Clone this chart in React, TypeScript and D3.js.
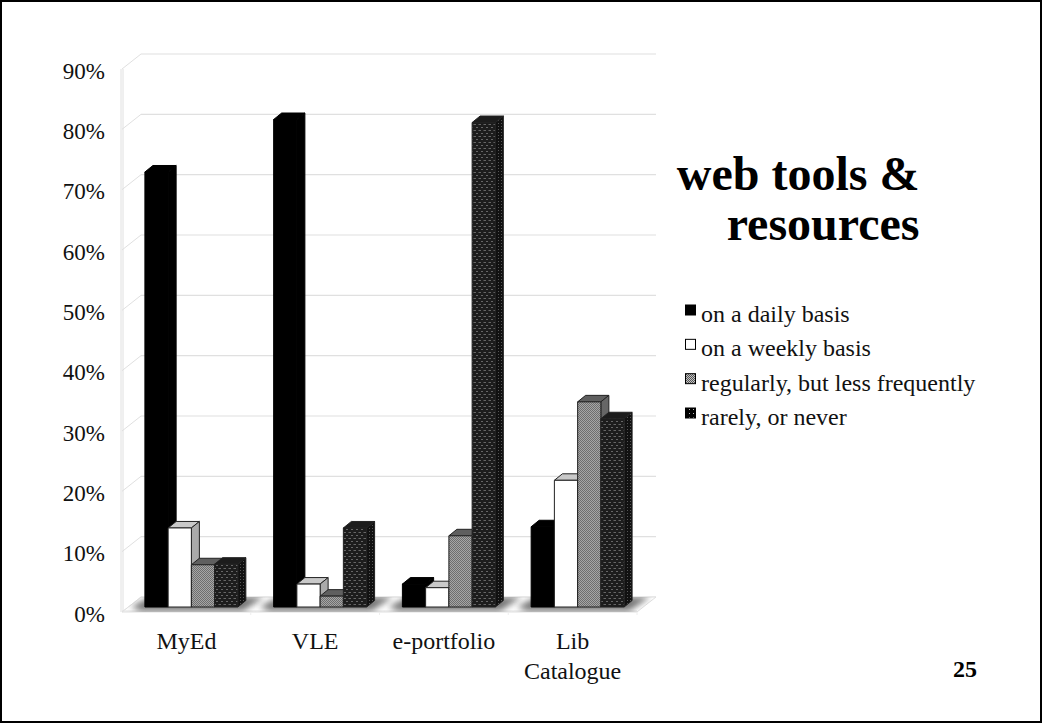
import * as d3 from 'd3';

const categories = ['MyEd', 'VLE', 'e-portfolio', 'Lib Catalogue'];
const seriesNames = ['on a daily basis', 'on a weekly basis', 'regularly, but less frequently', 'rarely, or never'];
const daily = [72.1, 80.8, 3.8, 13.3];
const weekly = [13.1, 3.8, 3.2, 21];
const regularly = [7, 1.8, 11.8, 34];
const rarely = [7.1, 13.1, 80.3, 31.2];
const allSeries = [daily, weekly, regularly, rarely];
const yTicks = [0, 10, 20, 30, 40, 50, 60, 70, 80, 90];

const width = 1042;
const height = 723;
const serif = '"Liberation Serif", serif';

// fake 3D offsets, from the picture
const wall = { dx: 19, dy: -15 };
const depth = { dx: 8, dy: -6.5 };
const barInset = 5;

const x = d3.scaleBand<string>().domain(categories).range([122, 637]).paddingInner(0.278).paddingOuter(0.139);
const xInner = d3.scaleBand<number>().domain([0, 1, 2, 3]).range([0, x.bandwidth()]);
const yFront = d3.scaleLinear().domain([0, 90]).range([612, 69]);
const yBar = d3.scaleLinear().domain([0, 90]).range([607, 64]);

const faces = [
  { front: '#000', top: '#000', side: '#000', stroke: '#000' },
  { front: '#fff', top: '#c9c9c9', side: '#aaa', stroke: '#222' },
  { front: 'url(#grey)', top: '#5f5f5f', side: '#666', stroke: '#222' },
  { front: 'url(#dots)', top: '#1c1c1c', side: 'url(#dotsSide)', stroke: '#222' },
];

const poly = d3.line();

function Bar({ cat, s, value }: { cat: string; s: number; value: number }) {
  const x0 = x(cat)! + barInset + xInner(s)!;
  const x1 = x0 + xInner.bandwidth();
  const y0 = yBar(0);
  const y1 = yBar(value);
  const f = faces[s];
  const top = poly([[x0, y1], [x1, y1], [x1 + depth.dx, y1 + depth.dy], [x0 + depth.dx, y1 + depth.dy]]) + 'Z';
  const side = poly([[x1, y1], [x1 + depth.dx, y1 + depth.dy], [x1 + depth.dx, y0 + depth.dy], [x1, y0]]) + 'Z';
  return (
    <g stroke={f.stroke} strokeWidth={1} strokeLinejoin="round">
      <path d={top} fill={f.top} />
      <path d={side} fill={f.side} />
      <rect x={x0} y={y1} width={x1 - x0} height={y0 - y1} fill={f.front} />
    </g>
  );
}

export default function App() {
  const floor = poly([
    [122, yFront(0)],
    [637, yFront(0)],
    [637 + wall.dx, yFront(0) + wall.dy],
    [122 + wall.dx, yFront(0) + wall.dy],
  ]) + 'Z';

  return (
    <svg width={width} height={height} style={{ position: 'absolute', left: 0, top: 0, background: '#fff' }} fontFamily={serif}>
      <defs>
        <pattern id="grey" width={2} height={2} patternUnits="userSpaceOnUse">
          <rect width={2} height={2} fill="#a6a6a6" />
          <rect width={1} height={1} fill="#6e6e6e" />
          <rect x={1} y={1} width={1} height={1} fill="#6e6e6e" />
        </pattern>
        <pattern id="dots" width={5} height={6} patternUnits="userSpaceOnUse">
          <rect width={5} height={6} fill="#1d1d1d" />
          <rect x={1} y={1} width={2} height={1} fill="#666" />
          <rect x={3.5} y={4} width={1.5} height={1} fill="#666" />
          <rect x={0} y={4} width={1} height={1} fill="#666" />
        </pattern>
        <pattern id="dotsSide" width={3} height={3} patternUnits="userSpaceOnUse">
          <rect width={3} height={3} fill="#111" />
          <rect width={1} height={1} fill="#555" />
        </pattern>
        <pattern id="swatchGrey" width={2} height={2} patternUnits="userSpaceOnUse">
          <rect width={2} height={2} fill="#c4c4c4" />
          <rect width={1} height={1} fill="#555" />
          <rect x={1} y={1} width={1} height={1} fill="#555" />
        </pattern>
        <pattern id="swatchDark" width={4} height={4} patternUnits="userSpaceOnUse">
          <rect width={4} height={4} fill="#000" />
          <rect x={1} y={1} width={1} height={1} fill="#bbb" />
        </pattern>
        <filter id="soft" x="-20%" y="-100%" width="140%" height="300%">
          <feGaussianBlur stdDeviation="3" />
        </filter>
        <clipPath id="floorClip">
          <path d={floor} />
        </clipPath>
      </defs>

      <rect x={1} y={1} width={width - 2} height={height - 2} fill="none" stroke="#000" strokeWidth={2} />

      {/* walls and floor */}
      <g fill="none" stroke="#e0e0e0" strokeWidth={1}>
        <line x1={121} x2={121} y1={yFront(90)} y2={yFront(0)} />
        <line x1={123} x2={123} y1={yFront(90)} y2={yFront(0)} />
        {yTicks.map((t) => (
          <g key={t}>
            <line x1={122} x2={122 + wall.dx} y1={yFront(t)} y2={yFront(t) + wall.dy} />
            <line x1={122 + wall.dx} x2={637 + wall.dx} y1={yFront(t) + wall.dy} y2={yFront(t) + wall.dy} strokeWidth={1.2} />
          </g>
        ))}
        <path d={floor} fill="#fff" />
        <line x1={122} x2={637} y1={yFront(0) - 1} y2={yFront(0) - 1} />
        {[1, 2, 3, 4].map((i) => (
          <line key={i} x1={122 + i * x.step()} x2={122 + i * x.step()} y1={yFront(0)} y2={yFront(0) + 3} stroke="#eee" />
        ))}
      </g>

      {/* floor shadows */}
      <g clipPath="url(#floorClip)">
        {categories.map((c) => {
          const l = x(c)! + barInset;
          const r = l + x.bandwidth();
          return (
            <path
              key={c}
              d={poly([[l - 4, 611], [r + 5, 611], [r + 26, 597], [l + 5, 597], [l - 14, 607]]) + 'Z'}
              fill="#777"
              filter="url(#soft)"
            />
          );
        })}
      </g>

      {/* bars */}
      {categories.map((c, i) => (
        <g key={c}>
          {allSeries.map((vals, s) => (
            <Bar key={s} cat={c} s={s} value={vals[i]} />
          ))}
        </g>
      ))}

      {/* y labels */}
      <g fontSize={23} fill="#111" textAnchor="end">
        {yTicks.map((t) => (
          <text key={t} x={105} y={yFront(t) + 9.5}>
            {t}%
          </text>
        ))}
      </g>

      {/* x labels */}
      <g fontSize={24} fill="#111" textAnchor="middle">
        {categories.map((c) => {
          const cx = x(c)! + x.bandwidth() / 2;
          const words = c === 'Lib Catalogue' ? c.split(' ') : [c];
          return words.map((w, i) => (
            <text key={w} x={cx} y={649 + i * 30}>
              {w}
            </text>
          ));
        })}
      </g>

      {/* title */}
      <g fontSize={48} fontWeight="bold" textAnchor="end" fill="#000">
        <text x={919.5} y={190}>web tools &amp;</text>
        <text x={919.5} y={240}>resources</text>
      </g>

      {/* legend */}
      <g fontSize={24} fill="#111">
        {seriesNames.map((n, i) => {
          const rowY = d3.scaleLinear().domain([0, 3]).range([322, 425])(i);
          const fills = ['#000', '#fff', 'url(#swatchGrey)', 'url(#swatchDark)'];
          return (
            <g key={n}>
              <rect x={685.5} y={rowY - 17} width={10} height={10} fill={fills[i]} stroke="#000" />
              <text x={701} y={rowY}>{n}</text>
            </g>
          );
        })}
      </g>

      <text x={977} y={677} textAnchor="end" fontSize={24} fontWeight="bold" fill="#000">25</text>
    </svg>
  );
}
